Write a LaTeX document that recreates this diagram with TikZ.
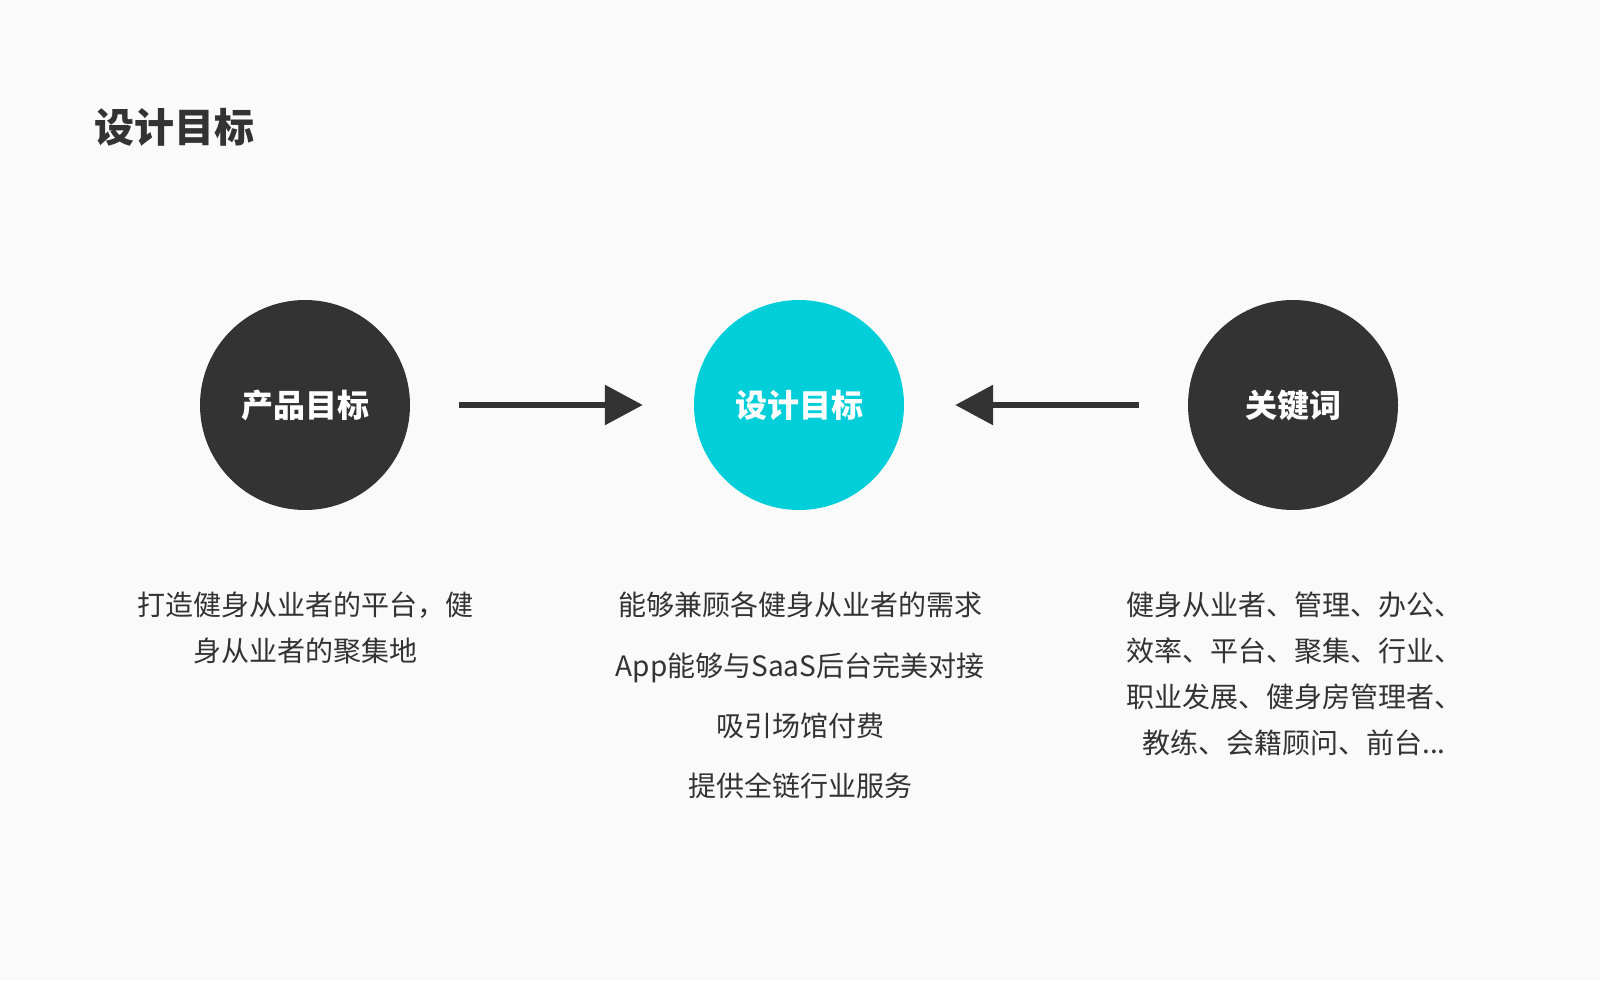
\documentclass[tikz,border=0pt]{standalone}
\usepackage{fontspec}
\setmainfont{Noto Sans CJK SC}
\usetikzlibrary{arrows.meta}
\definecolor{fond}{HTML}{FAFAFA}
\definecolor{sombre}{HTML}{333333}
\definecolor{turq}{HTML}{00CED9}
\newcommand{\corps}{\fontsize{28}{46}\selectfont}
\newcommand{\gras}[1]{\bfseries\fontsize{#1}{#1}\selectfont}

\begin{document}
\begin{tikzpicture}[x=1pt,y=-1pt,
	rond/.style={circle,minimum size=210pt,inner sep=0pt,text=white,font=\gras{32}},
	fleche/.style={line width=6pt,draw=sombre,-{Triangle[length=38pt,width=39pt]}},
	texte/.style={align=center,text=sombre,font=\corps,inner sep=0pt,anchor=north}]
	\fill[fond] (0,0) rectangle (1600,980);
	\node[anchor=west,inner sep=0pt,text=sombre,font=\gras{40}] (titre) at (94,127) {设计目标};
	% les trois ronds
	\node[rond,fill=sombre] (produit) at (305,405) {\raisebox{1pt}{产品目标}};
	\node[rond,fill=turq] (design) at (799,405) {\raisebox{1pt}{设计目标}};
	\node[rond,fill=sombre] (cles) at (1293,405) {\raisebox{1pt}{关键词}};
	\draw[fleche,shorten <=49pt,shorten >=51pt] (produit) -- (design);
	\draw[fleche,shorten <=49pt,shorten >=51pt] (cles) -- (design);
	% les textes
	\node[texte] (txtproduit) at (305,592) {打造健身从业者的平台，健\\身从业者的聚集地};
	\node[texte,font=\fontsize{28}{60.3}\selectfont] (txtdesign) at (800,592)
		{能够兼顾各健身从业者的需求\\App能够与SaaS后台完美对接\\吸引场馆付费\\提供全链行业服务};
	\node[texte] (txtcles) at (1294,592)
		{健身从业者、管理、办公、\\效率、平台、聚集、行业、\\职业发展、健身房管理者、\\教练、会籍顾问、前台...};
\end{tikzpicture}
\end{document}
